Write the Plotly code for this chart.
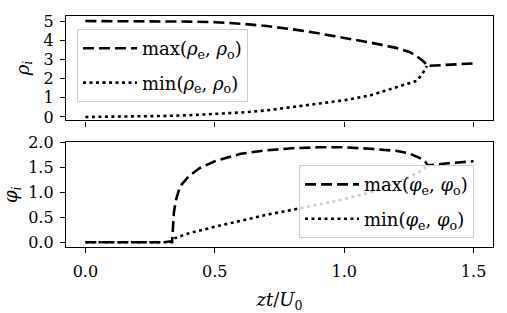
import plotly.graph_objects as go
from plotly.subplots import make_subplots

# ---- data ----
x_rho_max = [0, 0.1, 0.2, 0.3, 0.4, 0.5, 0.6, 0.7, 0.8, 0.9, 1.0, 1.1, 1.2, 1.25, 1.28, 1.30, 1.31, 1.32, 1.4, 1.5]
rho_max = [5.0, 5.0, 5.0, 4.99, 4.97, 4.94, 4.86, 4.74, 4.57, 4.36, 4.12, 3.88, 3.6, 3.4, 3.17, 2.98, 2.85, 2.66, 2.72, 2.79]
x_rho_min = [0, 0.1, 0.2, 0.3, 0.4, 0.5, 0.6, 0.7, 0.8, 0.9, 1.0, 1.1, 1.2, 1.25, 1.28, 1.30, 1.31, 1.32]
rho_min = [0.0, 0.01, 0.02, 0.05, 0.09, 0.16, 0.23, 0.34, 0.52, 0.70, 0.87, 1.12, 1.52, 1.72, 1.88, 2.2, 2.4, 2.66]

x_phi_max = [0, 0.1, 0.2, 0.3, 0.335, 0.338, 0.342, 0.35, 0.366, 0.4, 0.44, 0.5, 0.6, 0.7, 0.8, 0.9, 1.0, 1.1, 1.2, 1.25, 1.3, 1.315, 1.323, 1.4, 1.5]
phi_max = [0, 0, 0, 0, 0.02, 0.3, 0.6, 0.85, 1.12, 1.32, 1.48, 1.62, 1.77, 1.84, 1.88, 1.9, 1.9, 1.87, 1.83, 1.78, 1.67, 1.6, 1.54, 1.58, 1.62]
x_phi_min = [0, 0.1, 0.2, 0.3, 0.335, 0.345, 0.4, 0.5, 0.6, 0.7, 0.8, 0.9, 1.0, 1.1, 1.2, 1.25, 1.3, 1.323]
phi_min = [0, 0, 0, 0, 0, 0.08, 0.18, 0.31, 0.43, 0.55, 0.65, 0.75, 0.86, 1.0, 1.18, 1.3, 1.44, 1.54]

x_ticks = [0.0, 0.5, 1.0, 1.5]
x_ticklabels = ["0.0", "0.5", "1.0", "1.5"]
rho_ticks = [0, 1, 2, 3, 4, 5]
phi_ticks = [0.0, 0.5, 1.0, 1.5, 2.0]
phi_ticklabels = ["0.0", "0.5", "1.0", "1.5", "2.0"]

FONT = "DejaVu Serif, Liberation Serif, serif"
FS_TICK = 16
FS_LEG = 18
FS_TITLE = 18
DASH = "11px,5px"
DOT = "3px,3.5px"
LW = 2.6

fig = make_subplots(rows=2, cols=1, shared_xaxes=False)

fig.add_trace(go.Scatter(x=x_rho_max, y=rho_max, mode="lines",
                         line=dict(color="black", width=LW, dash=DASH),
                         name="max(<i>ρ</i><sub>e</sub>, <i>ρ</i><sub>o</sub>)",
                         legend="legend", legendgroup="a"), row=1, col=1)
fig.add_trace(go.Scatter(x=x_rho_min, y=rho_min, mode="lines",
                         line=dict(color="black", width=LW, dash=DOT),
                         name="min(<i>ρ</i><sub>e</sub>, <i>ρ</i><sub>o</sub>)",
                         legend="legend", legendgroup="b"), row=1, col=1)
fig.add_trace(go.Scatter(x=x_phi_max, y=phi_max, mode="lines",
                         line=dict(color="black", width=LW, dash=DASH),
                         name="max(<i>φ</i><sub>e</sub>, <i>φ</i><sub>o</sub>)",
                         legend="legend2", legendgroup="c"), row=2, col=1)
fig.add_trace(go.Scatter(x=x_phi_min, y=phi_min, mode="lines",
                         line=dict(color="black", width=LW, dash=DOT),
                         name="min(<i>φ</i><sub>e</sub>, <i>φ</i><sub>o</sub>)",
                         legend="legend2", legendgroup="d"), row=2, col=1)

W, H = 507, 313
xd = [66 / W, 493 / W]
top_dom = [1 - 117 / H, 1 - 7 / H]
bot_dom = [1 - 250 / H, 1 - 140 / H]

axis_common = dict(showline=True, mirror=True, linecolor="black", linewidth=1.3,
                   ticks="outside", ticklen=5, tickwidth=1.2, tickcolor="black",
                   showgrid=False, zeroline=False,
                   tickfont=dict(family=FONT, size=FS_TICK, color="black"))

fig.update_layout(
    width=W, height=H,
    margin=dict(l=0, r=0, t=0, b=0),
    paper_bgcolor="white", plot_bgcolor="white",
    font=dict(family=FONT, size=FS_TICK, color="black"),
    xaxis=dict(domain=xd, range=[-0.075, 1.575], tickvals=x_ticks, showticklabels=False,
               anchor="y", **axis_common),
    yaxis=dict(domain=top_dom, range=[-0.18, 5.28], tickvals=rho_ticks, anchor="x",
               ticklabelstandoff=3,
               title=dict(text="<i>ρ<sub>i</sub></i>", standoff=9,
                          font=dict(family=FONT, size=FS_TITLE)),
               **axis_common),
    xaxis2=dict(domain=xd, range=[-0.075, 1.575], tickvals=x_ticks, ticktext=x_ticklabels,
                anchor="y2", ticklabelstandoff=5,
                title=dict(text="<i>zt</i>/<i>U</i><sub>0</sub>", standoff=15,
                           font=dict(family=FONT, size=FS_TITLE)),
                **axis_common),
    yaxis2=dict(domain=bot_dom, range=[-0.095, 2.0], tickvals=phi_ticks, ticktext=phi_ticklabels,
                anchor="x2", ticklabelstandoff=3,
                title=dict(text="<i>φ<sub>i</sub></i>", standoff=5,
                           font=dict(family=FONT, size=FS_TITLE)),
                **axis_common),
    legend=dict(x=77 / W, y=1 - 21 / H, xanchor="left", yanchor="top",
                bgcolor="rgba(255,255,255,0.8)", bordercolor="#cccccc", borderwidth=1,
                font=dict(family=FONT, size=FS_LEG), tracegroupgap=8,
                itemwidth=54),
    legend2=dict(x=299 / W, y=1 - 164 / H, xanchor="left", yanchor="top",
                 bgcolor="rgba(255,255,255,0.8)", bordercolor="#cccccc", borderwidth=1,
                 font=dict(family=FONT, size=FS_LEG), tracegroupgap=8,
                 itemwidth=54),
    showlegend=True,
)

fig.write_html("out.html")
